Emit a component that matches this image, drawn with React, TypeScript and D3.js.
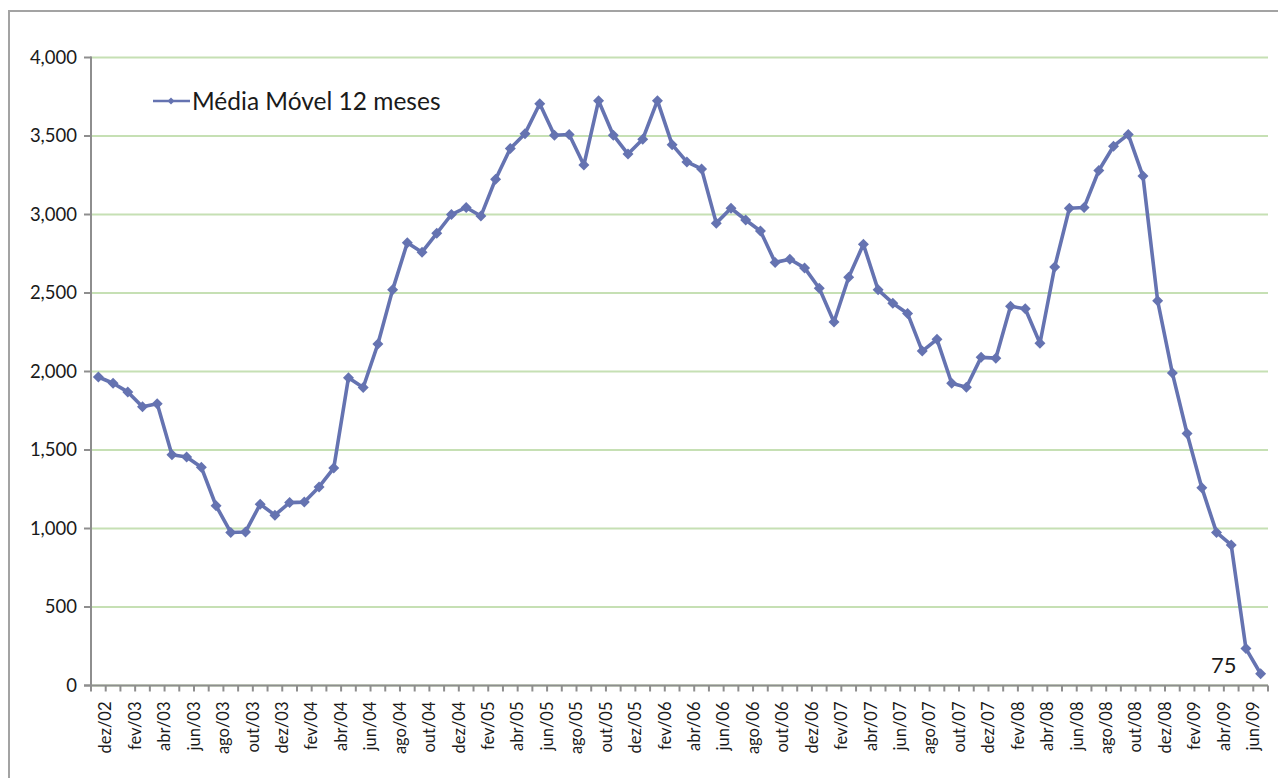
import React from 'react';
import * as d3 from 'd3';

// nov/02 .. jun/09, one point per month
const months = [
  'nov/02', 'dez/02',
  'jan/03', 'fev/03', 'mar/03', 'abr/03', 'mai/03', 'jun/03', 'jul/03', 'ago/03', 'set/03', 'out/03', 'nov/03', 'dez/03',
  'jan/04', 'fev/04', 'mar/04', 'abr/04', 'mai/04', 'jun/04', 'jul/04', 'ago/04', 'set/04', 'out/04', 'nov/04', 'dez/04',
  'jan/05', 'fev/05', 'mar/05', 'abr/05', 'mai/05', 'jun/05', 'jul/05', 'ago/05', 'set/05', 'out/05', 'nov/05', 'dez/05',
  'jan/06', 'fev/06', 'mar/06', 'abr/06', 'mai/06', 'jun/06', 'jul/06', 'ago/06', 'set/06', 'out/06', 'nov/06', 'dez/06',
  'jan/07', 'fev/07', 'mar/07', 'abr/07', 'mai/07', 'jun/07', 'jul/07', 'ago/07', 'set/07', 'out/07', 'nov/07', 'dez/07',
  'jan/08', 'fev/08', 'mar/08', 'abr/08', 'mai/08', 'jun/08', 'jul/08', 'ago/08', 'set/08', 'out/08', 'nov/08', 'dez/08',
  'jan/09', 'fev/09', 'mar/09', 'abr/09', 'mai/09', 'jun/09'
];

const mediaMovel = [
  1965, 1925,
  1870, 1775, 1795, 1470, 1455, 1390, 1145, 975, 978, 1155, 1085, 1165,
  1168, 1265, 1385, 1960, 1898, 2175, 2520, 2820, 2760, 2880, 3000, 3045,
  2990, 3225, 3420, 3515, 3705, 3505, 3510, 3315, 3725, 3505, 3385, 3480,
  3725, 3445, 3335, 3290, 2945, 3040, 2965, 2895, 2695, 2715, 2660, 2530,
  2315, 2600, 2810, 2520, 2435, 2370, 2130, 2205, 1925, 1900, 2090, 2085,
  2415, 2400, 2180, 2665, 3040, 3045, 3280, 3435, 3510, 3245, 2450, 1990,
  1605, 1260, 975, 895, 235, 75
];

const yTicks = [0, 500, 1000, 1500, 2000, 2500, 3000, 3500, 4000];
const seriesName = 'Média Móvel 12 meses';
const lastValueLabel = '75';

const W = 1278;
const H = 778;
const plot = { left: 91, right: 1268, top: 57.5, bottom: 685.5 };

const lineColor = '#6573B1';
const gridColor = '#C6E0B4';
const axisColor = '#8E8E8E';
const textColor = '#1a1a1a';
const font = 'Lato, "Open Sans", sans-serif';

const diamond = (r: number) => `M0,${-r}L${r},0L0,${r}L${-r},0Z`;

export default function App() {
  const x = d3.scaleBand<string>().domain(months).range([plot.left, plot.right]);
  const y = d3.scaleLinear().domain([0, 4000]).range([plot.bottom, plot.top]);
  const cx = (m: string) => (x(m) as number) + x.bandwidth() / 2;

  const line = d3.line<number>()
    .x((_, i) => cx(months[i]))
    .y(d => y(d));

  const tickXs = months.map(m => x(m) as number).concat([plot.right]);
  const labelMonths = months.filter((_, i) => i % 2 === 1);
  const last = months.length - 1;

  return (
    <svg width={W} height={H} style={{ position: 'absolute', left: 0, top: 0, background: 'white' }}>
      {/* outer frame, runs past the picture edge */}
      <rect x={9} y={11} width={W + 40} height={H + 40} fill="none" stroke="#A3A3A3" strokeWidth={2} />

      {/* gridlines */}
      {yTicks.map(t => (
        <line key={`g${t}`} x1={plot.left} x2={plot.right} y1={y(t)} y2={y(t)} stroke={gridColor} strokeWidth={2} />
      ))}

      {/* y axis */}
      <line x1={plot.left} x2={plot.left} y1={plot.top - 1} y2={plot.bottom} stroke={axisColor} strokeWidth={2} />
      {yTicks.map(t => (
        <g key={`y${t}`}>
          <line x1={plot.left - 7} x2={plot.left} y1={y(t)} y2={y(t)} stroke={axisColor} strokeWidth={2} />
          <text x={77} y={y(t)} dy="0.35em" textAnchor="end" fontFamily={font} fontSize={18.5} fill={textColor}>
            {d3.format(',')(t)}
          </text>
        </g>
      ))}

      {/* x axis */}
      <line x1={plot.left - 7} x2={plot.right} y1={plot.bottom} y2={plot.bottom} stroke={axisColor} strokeWidth={2} />
      {tickXs.map((tx, i) => (
        <line key={`t${i}`} x1={tx} x2={tx} y1={plot.bottom} y2={plot.bottom + 6} stroke={axisColor} strokeWidth={2} />
      ))}
      {labelMonths.map(m => (
        <text
          key={`l${m}`}
          transform={`translate(${x(m)},${plot.bottom + 16}) rotate(-90)`}
          dy="0.35em"
          textAnchor="end"
          fontFamily={font}
          fontSize={16.5}
          fill={textColor}
        >
          {m}
        </text>
      ))}

      {/* series */}
      <path d={line(mediaMovel) || ''} fill="none" stroke={lineColor} strokeWidth={3.6} strokeLinejoin="round" />
      {mediaMovel.map((v, i) => (
        <path key={`p${i}`} d={diamond(5.5)} transform={`translate(${cx(months[i])},${y(v)})`} fill={lineColor} />
      ))}

      <text x={cx(months[last]) - 24} y={y(mediaMovel[last]) - 1} textAnchor="end" fontFamily={font} fontSize={22} fill={textColor}>
        {lastValueLabel}
      </text>

      {/* legend */}
      <g transform="translate(153,101)">
        <line x1={0} x2={37} y1={0} y2={0} stroke={lineColor} strokeWidth={2.5} />
        <path d={diamond(3.5)} transform="translate(18,0)" fill={lineColor} />
        <text x={39} y={0} dy="0.36em" fontFamily={font} fontSize={24.5} fill={textColor}>{seriesName}</text>
      </g>
    </svg>
  );
}
